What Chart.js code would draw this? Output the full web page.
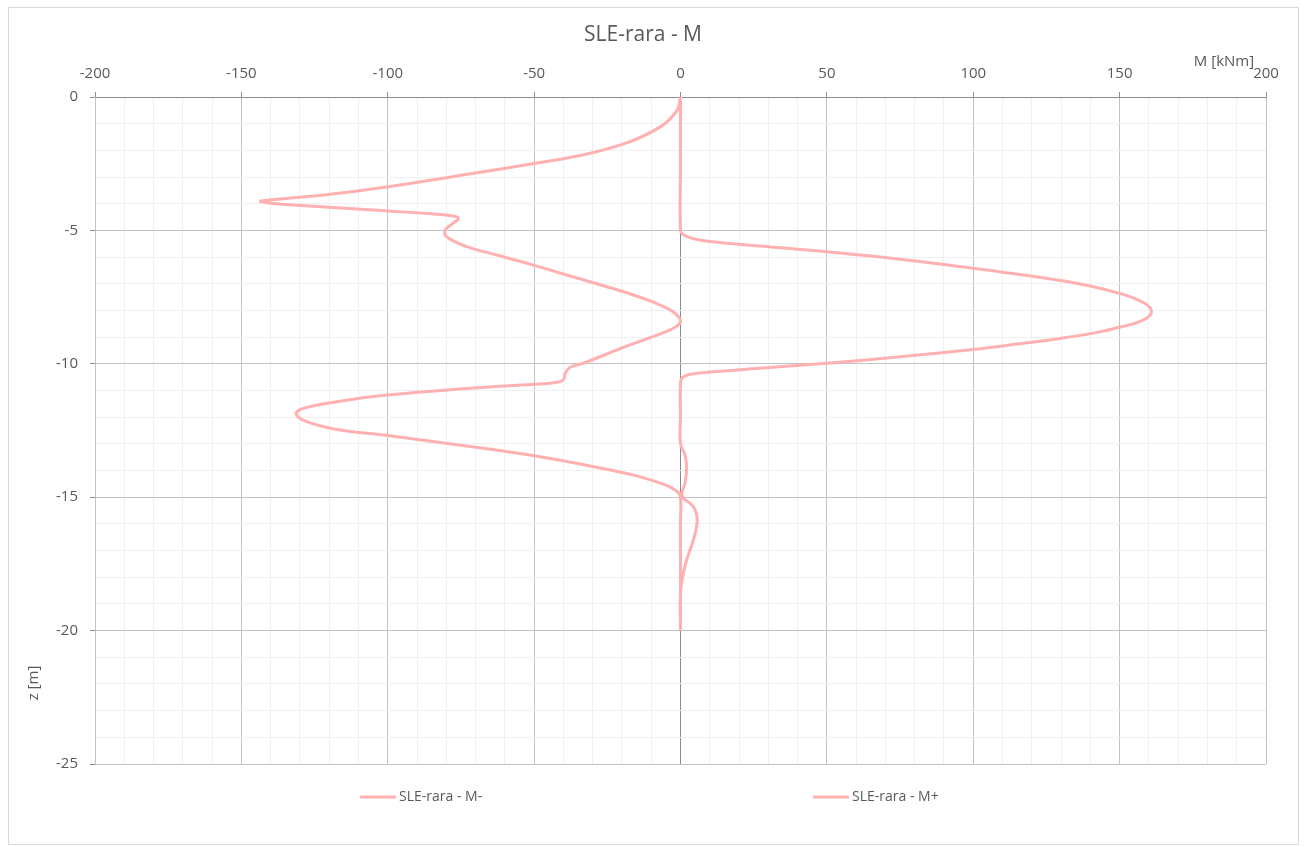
<!DOCTYPE html>
<html>
<head>
<meta charset="utf-8">
<script src="https://cdn.jsdelivr.net/npm/chart.js@4/dist/chart.umd.min.js"></script>
<style>
  html, body { margin: 0; padding: 0; background: #fff; }
  #wrap { position: absolute; left: 0; top: 0; width: 1305px; height: 847px; }
</style>
</head>
<body>
<div id="wrap"><canvas id="c" width="1305" height="847"></canvas></div>
<script>
// ---- data ----
const chartTitle = 'SLE-rara - M';
const xAxisTitle = 'M [kNm]';
const yAxisTitle = 'z [m]';
const seriesNames = ['SLE-rara - M-', 'SLE-rara - M+'];

// SLE-rara - M-  (moment [kNm], depth z [m])
const mNegM = [0, -1.1, -6.8, -19.4, -36.4, -50.1, -70.6, -99.8, -121.8, -143.3, -139, -100, -85, -77.6, -75.9, -77.6, -80.4, -79.9, -73, -61.8, -50.3, -37.9, -25.2, -16, -9, -4, -1.2, 0, -3, -10, -21, -33.2, -37.7, -39.4, -40, -43.4, -50, -71.9, -100, -117.4, -128.8, -131.3, -127.7, -117.4, -100, -71.9, -50, -30, -15, -5, -1, 0, 0, 0, 0, 0, 0];
const mNegZ = [0, -0.49, -1.11, -1.76, -2.24, -2.49, -2.86, -3.36, -3.67, -3.9, -3.99, -4.27, -4.38, -4.46, -4.55, -4.73, -4.99, -5.24, -5.61, -5.95, -6.3, -6.7, -7.11, -7.42, -7.7, -7.95, -8.17, -8.43, -8.7, -9.0, -9.45, -9.98, -10.13, -10.36, -10.6, -10.71, -10.77, -10.92, -11.17, -11.42, -11.67, -11.88, -12.17, -12.46, -12.69, -13.1, -13.45, -13.85, -14.2, -14.55, -14.8, -15, -16, -17, -18, -19, -20];

// SLE-rara - M+  (moment [kNm], depth z [m])
const mPosM = [0, 0, 0, 0.8, 4, 10, 30, 50, 75, 100, 131, 150, 158.5, 160.9, 158, 150, 141, 129, 115, 100, 75, 50, 27, 10, 3, 0.6, 0, 0, 0, 1.5, 2.1, 1.5, 0.5, 4.4, 5.7, 4.4, 2.1, 0.7, 0, 0];
const mPosZ = [0, -2.5, -4.98, -5.15, -5.3, -5.42, -5.61, -5.8, -6.08, -6.42, -6.9, -7.36, -7.73, -8.05, -8.36, -8.63, -8.85, -9.06, -9.26, -9.46, -9.74, -9.98, -10.17, -10.31, -10.4, -10.52, -10.7, -12, -13, -13.4, -13.9, -14.5, -14.95, -15.36, -15.85, -16.6, -17.35, -18, -18.6, -20];

const xMin = -200, xMax = 200, xMajor = 50, xMinor = 10;
const yMin = -25, yMax = 0, yMajor = 5, yMinor = 1;

// ---- styles ----
const LINE = 'rgb(255,176,176)';
const TEXT = '#595959';
const FONT = "'Open Sans', 'DejaVu Sans', sans-serif";
const GRID_MAJOR = '#c3c3c3';
const GRID_MINOR = '#f0f0f0';
const ZERO_LINE = '#8a8a8a';

const toPts = (xs, ys) => xs.map((v, i) => ({ x: v, y: ys[i] }));

const gridColor = (major, zeroCol) => (ctx) => {
  const v = ctx.tick ? ctx.tick.value : null;
  if (v === 0 && zeroCol) return zeroCol;
  return (v !== null && Math.abs(v % major) < 1e-9) ? GRID_MAJOR : GRID_MINOR;
};
const tickColor = (major) => (ctx) => {
  const v = ctx.tick ? ctx.tick.value : null;
  return (v !== null && Math.abs(v % major) < 1e-9) ? '#8c8c96' : 'rgba(0,0,0,0)';
};

const decorPlugin = {
  id: 'decor',
  beforeDraw(chart) {
    const c = chart.ctx;
    c.save();
    c.fillStyle = '#fff';
    c.fillRect(0, 0, chart.width, chart.height);
    c.strokeStyle = '#d9d9d9';
    c.lineWidth = 1;
    c.strokeRect(8.5, 7.5, 1290, 837);
    c.restore();
  },
  afterDraw(chart) {
    const c = chart.ctx;
    c.save();
    c.fillStyle = TEXT;
    c.font = '15px ' + FONT;
    c.textBaseline = 'middle';
    c.textAlign = 'center';
    c.fillText(xAxisTitle, 1224, 62);
    c.translate(34, 683);
    c.rotate(-Math.PI / 2);
    c.fillText(yAxisTitle, 0, 0);
    c.restore();

    // legend
    const pos = [360, 813];
    const ly = 797;
    c.save();
    c.font = '14px ' + FONT;
    c.textBaseline = 'middle';
    c.textAlign = 'left';
    chart.data.datasets.forEach((ds, i) => {
      c.strokeStyle = ds.borderColor;
      c.lineWidth = 3;
      c.beginPath();
      c.moveTo(pos[i], ly);
      c.lineTo(pos[i] + 36, ly);
      c.stroke();
      c.fillStyle = TEXT;
      c.fillText(ds.label, pos[i] + 39, ly);
    });
    c.restore();
  }
};

new Chart(document.getElementById('c'), {
  type: 'scatter',
  data: {
    datasets: [
      { label: seriesNames[0], data: toPts(mNegM, mNegZ), showLine: true, borderColor: LINE, backgroundColor: LINE,
        borderWidth: 3, pointRadius: 0, pointHoverRadius: 0, tension: 0.4, fill: false },
      { label: seriesNames[1], data: toPts(mPosM, mPosZ), showLine: true, borderColor: LINE, backgroundColor: LINE,
        borderWidth: 3, pointRadius: 0, pointHoverRadius: 0, tension: 0.4, fill: false }
    ]
  },
  options: {
    responsive: false,
    animation: false,
    events: [],
    layout: { padding: { left: 20, right: 39, top: 0, bottom: 83 } },
    plugins: {
      legend: { display: false },
      tooltip: { enabled: false },
      title: {
        display: true, text: chartTitle, color: TEXT,
        font: { family: FONT, size: 21, weight: 'normal' },
        padding: { top: 22, bottom: 0 }
      }
    },
    scales: {
      x: {
        type: 'linear', position: 'top', min: xMin, max: xMax,
        afterFit(s) { s.height = 49.8; },
        ticks: {
          stepSize: xMinor, color: TEXT, padding: 9, maxRotation: 0, autoSkip: false,
          font: { family: FONT, size: 15 },
          callback: (v) => (Math.abs(v % xMajor) < 1e-9 ? String(v) : '')
        },
        grid: { color: gridColor(xMajor, ZERO_LINE), tickColor: tickColor(xMajor), tickLength: 5, lineWidth: 1 },
        border: { color: '#8c8c96', width: 1 }
      },
      y: {
        type: 'linear', position: 'left', min: yMin, max: yMax,
        afterFit(s) { s.width = 75; },
        ticks: {
          stepSize: yMinor, color: TEXT, padding: 12, autoSkip: false,
          font: { family: FONT, size: 15 },
          callback: (v) => (Math.abs(v % yMajor) < 1e-9 ? String(v) : '')
        },
        grid: { color: gridColor(yMajor, null), tickColor: tickColor(yMajor), tickLength: 5, lineWidth: 1 },
        border: { color: GRID_MAJOR, width: 1 }
      }
    }
  },
  plugins: [decorPlugin]
});
</script>
</body>
</html>
